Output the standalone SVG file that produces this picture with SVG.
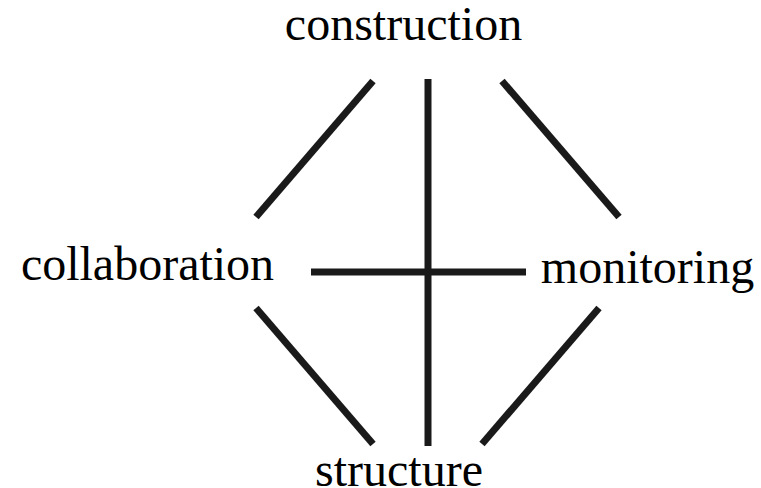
<svg xmlns="http://www.w3.org/2000/svg" width="761" height="488" viewBox="0 0 761 488">
<style>
.lbl{font-family:"Liberation Serif","Times New Roman",serif;font-size:48px;fill:#000;text-anchor:middle}
.edge{stroke:#1a1a1a;stroke-width:7;fill:none}
</style>
<rect width="761" height="488" fill="#fff"/>
<g id="connectors">
<line class="edge" x1="373" y1="81" x2="256" y2="217"/>
<line class="edge" x1="502" y1="81" x2="619" y2="217"/>
<line class="edge" x1="256" y1="308" x2="373" y2="444"/>
<line class="edge" x1="599" y1="308" x2="482" y2="444"/>
<line class="edge" x1="428" y1="79" x2="428" y2="446"/>
<line class="edge" x1="311" y1="272" x2="526" y2="272"/>
</g>
<g id="construction"><text class="lbl" x="403.5" y="40">construction</text></g>
<g id="collaboration"><text class="lbl" x="147.5" y="280">collaboration</text></g>
<g id="monitoring"><text class="lbl" x="647.5" y="283">monitoring</text></g>
<g id="structure"><text class="lbl" x="399" y="486">structure</text></g>
</svg>
